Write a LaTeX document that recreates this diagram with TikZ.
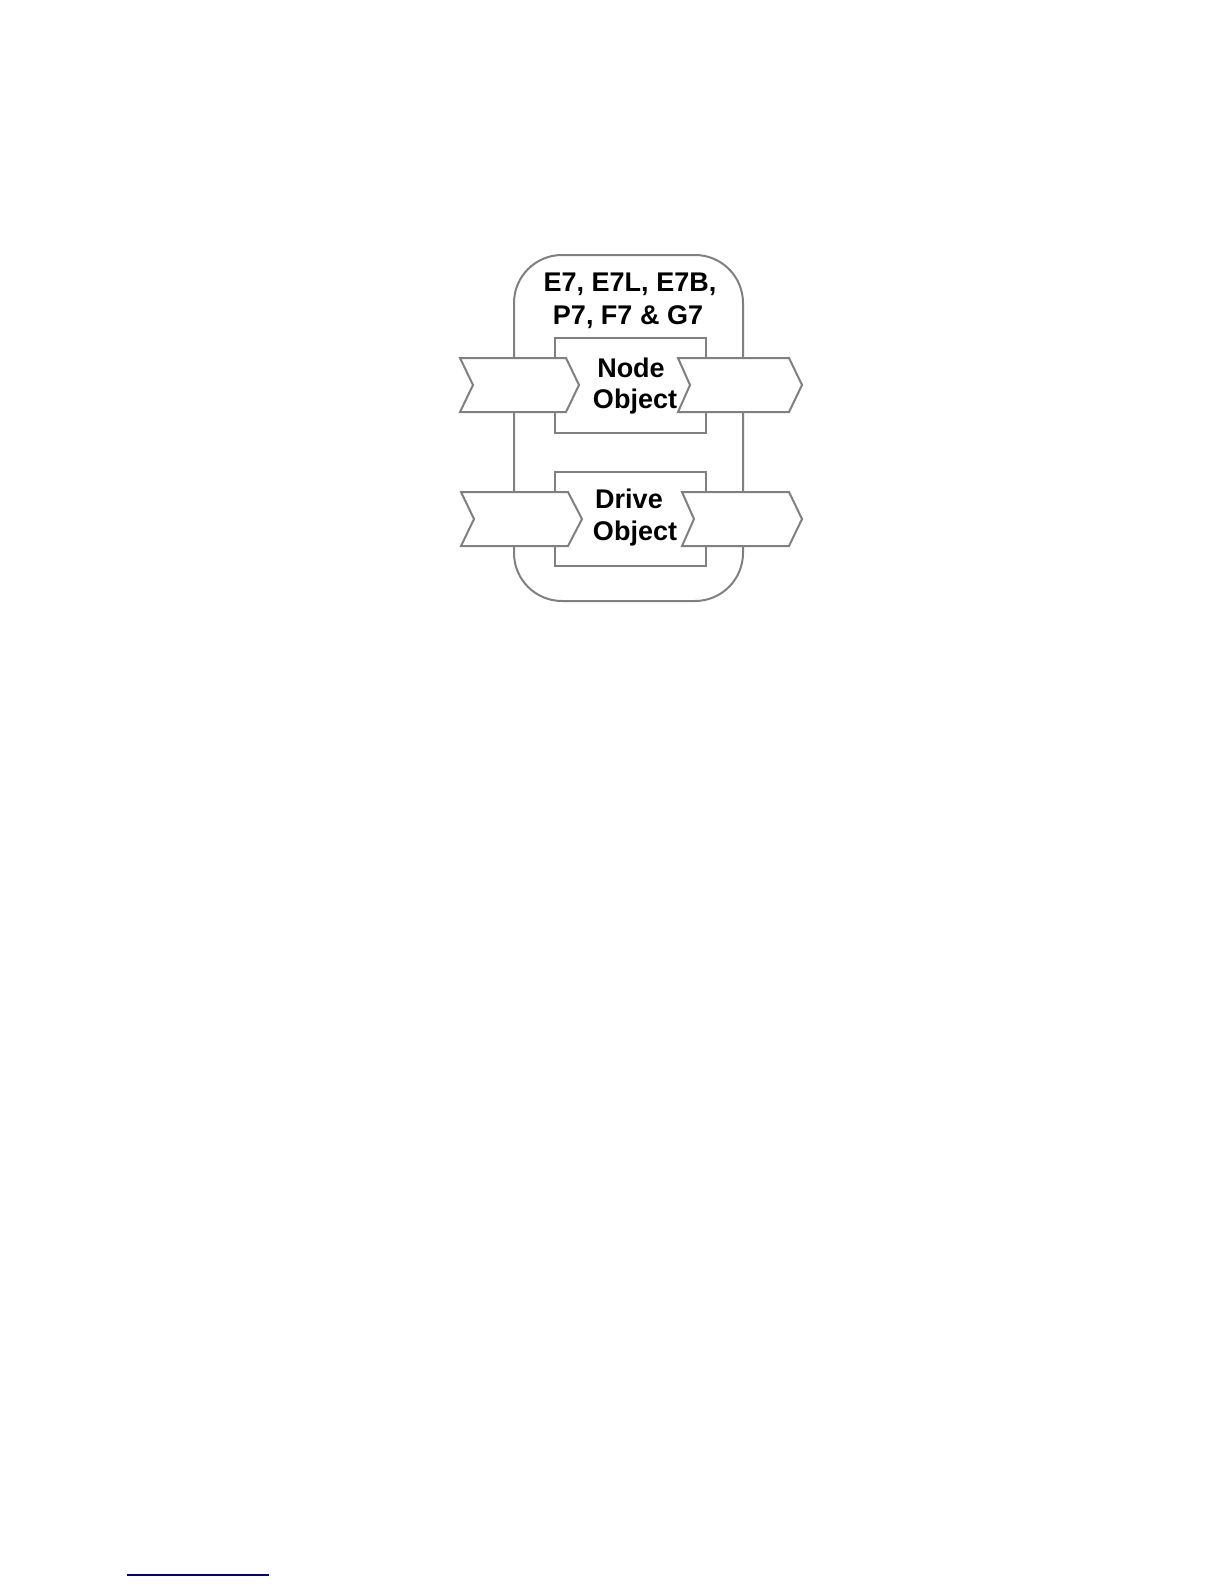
\documentclass[tikz,border=0pt]{standalone}
\usepackage{fontspec}
\setmainfont{Liberation Sans}
\begin{document}
\begin{tikzpicture}[x=0.5pt,y=-0.5pt,
  outline/.style={draw=black!50, line width=1pt, fill=white, line join=miter},
  lbl/.style={font=\bfseries\fontsize{13.5pt}{16pt}\selectfont, anchor=base, inner sep=0pt, text=black}]
\useasboundingbox (0,0) rectangle (1224,1584);
% outer rounded container
\draw[outline, rounded corners=24pt] (514,255) rectangle (743,601);
% inner boxes
\draw[outline] (555,338) rectangle (706,433);
\draw[outline] (555,472) rectangle (706,566);
% chevrons
\draw[outline] (460,358) -- (566,358) -- (579,385) -- (566,412) -- (460,412) -- (473,385) -- cycle;
\draw[outline] (461,492) -- (568,492) -- (582,519) -- (568,546) -- (461,546) -- (474,519) -- cycle;
\draw[outline] (678,358) -- (789,358) -- (802,385) -- (789,412) -- (678,412) -- (690,385) -- cycle;
\draw[outline] (682,492) -- (789,492) -- (802,519) -- (789,546) -- (682,546) -- (694,519) -- cycle;
% texts
\node[lbl] (title1) at (630,291) {E7, E7L, E7B,};
\node[lbl] (title2) at (628,324) {P7, F7 \& G7};
\node[lbl] (node1) at (631,377) {Node};
\node[lbl] (node2) at (635,408) {Object};
\node[lbl] (drive1) at (629,508) {Drive};
\node[lbl] (drive2) at (635,540) {Object};
% footnote rule
\draw[draw={rgb,255:red,0;green,0;blue,128}, line width=0.8pt] (127,1575) -- (269,1575);
\end{tikzpicture}
\end{document}
